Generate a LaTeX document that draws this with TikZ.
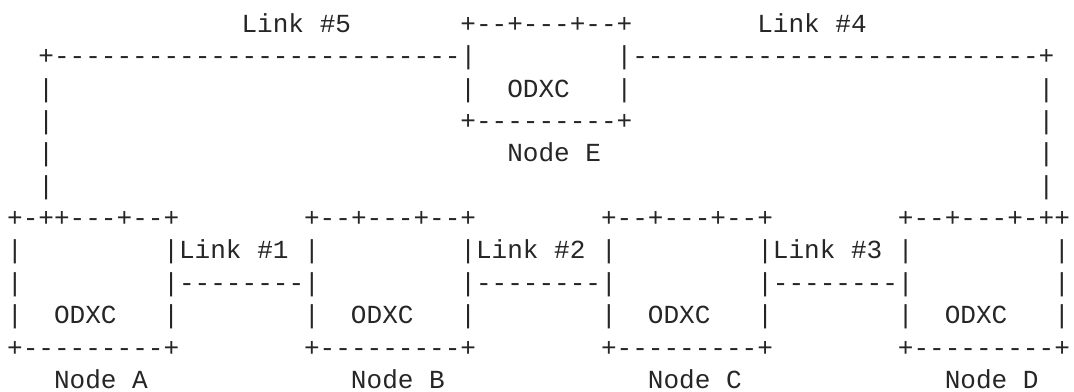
\documentclass[tikz,border=0pt]{standalone}
\usepackage{fontspec}
\setmonofont{Liberation Mono}
\tikzset{asc/.style={anchor=base west, inner sep=0pt, outer sep=0pt,
  font=\ttfamily\fontsize{19.54pt}{24pt}\selectfont, text=black!85}}
\newcommand\putrun[3]{\node[asc] (r#1c#2) at ({5.4pt+11.72pt*#2},{-24.4pt-24.26pt*#1}) {#3};}
\begin{document}
\begin{tikzpicture}
\fill[white] (0,0) rectangle (805.5pt,-294pt);
\useasboundingbox (0,0) rectangle (805.5pt,-294pt);
% row 0
\putrun{0}{15}{Link \#5}
\putrun{0}{29}{+--+---+--+}
\putrun{0}{48}{Link \#4}
% row 1
\putrun{1}{2}{+--------------------------|}
\putrun{1}{39}{|--------------------------+}
% row 2
\putrun{2}{2}{|}
\putrun{2}{29}{|}
\putrun{2}{32}{ODXC}
\putrun{2}{39}{|}
\putrun{2}{66}{|}
% row 3
\putrun{3}{2}{|}
\putrun{3}{29}{+---------+}
\putrun{3}{66}{|}
% row 4
\putrun{4}{2}{|}
\putrun{4}{32}{Node E}
\putrun{4}{66}{|}
% row 5
\putrun{5}{2}{|}
\putrun{5}{66}{|}
% row 6
\putrun{6}{0}{+-++---+--+}
\putrun{6}{19}{+--+---+--+}
\putrun{6}{38}{+--+---+--+}
\putrun{6}{57}{+--+---+-++}
% row 7
\putrun{7}{0}{|}
\putrun{7}{10}{|Link \#1 |}
\putrun{7}{29}{|Link \#2 |}
\putrun{7}{48}{|Link \#3 |}
\putrun{7}{67}{|}
% row 8
\putrun{8}{0}{|}
\putrun{8}{10}{|--------|}
\putrun{8}{29}{|--------|}
\putrun{8}{48}{|--------|}
\putrun{8}{67}{|}
% row 9
\putrun{9}{0}{|}
\putrun{9}{3}{ODXC}
\putrun{9}{10}{|}
\putrun{9}{19}{|}
\putrun{9}{22}{ODXC}
\putrun{9}{29}{|}
\putrun{9}{38}{|}
\putrun{9}{41}{ODXC}
\putrun{9}{48}{|}
\putrun{9}{57}{|}
\putrun{9}{60}{ODXC}
\putrun{9}{67}{|}
% row 10
\putrun{10}{0}{+---------+}
\putrun{10}{19}{+---------+}
\putrun{10}{38}{+---------+}
\putrun{10}{57}{+---------+}
% row 11
\putrun{11}{3}{Node A}
\putrun{11}{22}{Node B}
\putrun{11}{41}{Node C}
\putrun{11}{60}{Node D}
\end{tikzpicture}
\end{document}
